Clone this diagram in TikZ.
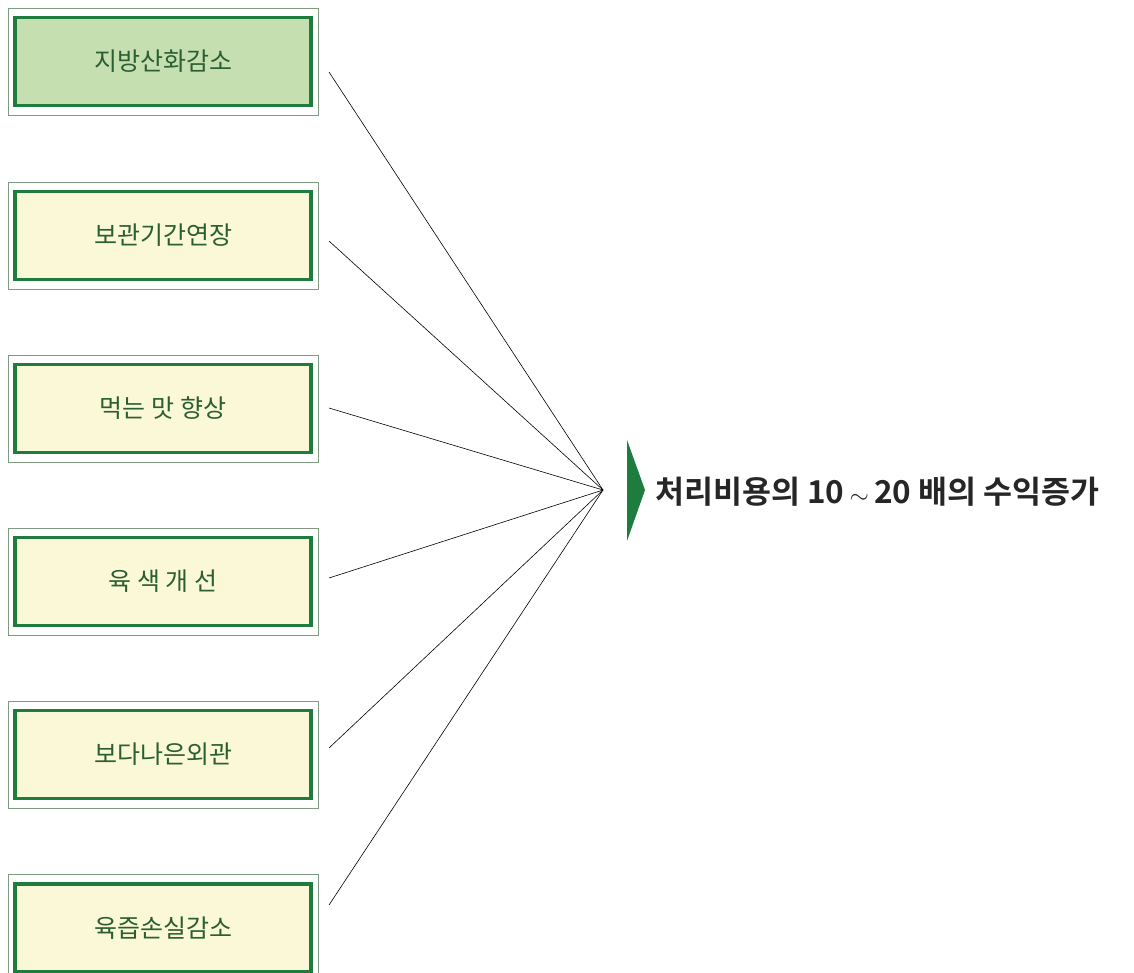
\documentclass[tikz,border=0pt]{standalone}
\usepackage{fontspec}
\setmainfont{Noto Sans CJK KR}
\newfontfamily\krbold{Noto Sans CJK KR Bold}
\definecolor{dgreen}{HTML}{1E7D3E}
\definecolor{txtgreen}{HTML}{2C5E34}
\definecolor{outerline}{HTML}{7E9A80}
\definecolor{yfill}{HTML}{FAF8D6}
\definecolor{gfill}{HTML}{C6DFB0}
\tikzset{
  outerbox/.style={draw=outerline, fill=white, line width=0.9pt, minimum width=310pt, minimum height=107pt, inner sep=0pt},
  innerbox/.style={draw=dgreen, line width=3.2pt, minimum width=296pt, minimum height=88pt, inner sep=0pt, font=\fontsize{25}{28}\selectfont, text=txtgreen},
  link/.style={black, line width=0.6pt}
}
\begin{document}
\begin{tikzpicture}[x=1pt,y=-1pt]
\useasboundingbox (0,0) rectangle (1134,972);
\fill[white] (0,0) rectangle (1134,972);
% boxes
\foreach \i/\y/\f/\t in {1/61.5/gfill/지방산화감소, 2/235.5/yfill/보관기간연장, 3/408.5/yfill/먹는 맛 향상, 4/581.5/yfill/육 색 개 선, 5/754.5/yfill/보다나은외관, 6/928/yfill/육즙손실감소}{
  \node[outerbox] (b\i) at (163,\y) {};
  \node[innerbox, fill=\f] (t\i) at (b\i.center) {\t};
}
% hub and start points
\coordinate (hub) at (603,490);
\coordinate (s1) at (329,72);
\coordinate (s2) at (329,241);
\coordinate (s3) at (329,408);
\coordinate (s4) at (329,578);
\coordinate (s5) at (329,748);
\coordinate (s6) at (329,905);
\foreach \i in {1,...,6}{\draw[link] (s\i) -- (hub);}
% triangle marker
\node[inner sep=0pt, minimum size=0pt] (tri) at (627,440) {};
\fill[dgreen] (tri.center) -- (645,490) -- (627,541) -- cycle;
% result text
\node[anchor=west, inner sep=0pt, font=\krbold\fontsize{31.5}{34}\selectfont, text=black!85] (res) at (655,492) {처리비용의 10\,{\fontsize{44}{44}\selectfont$\sim$}\,20 배의 수익증가};
\end{tikzpicture}
\end{document}
